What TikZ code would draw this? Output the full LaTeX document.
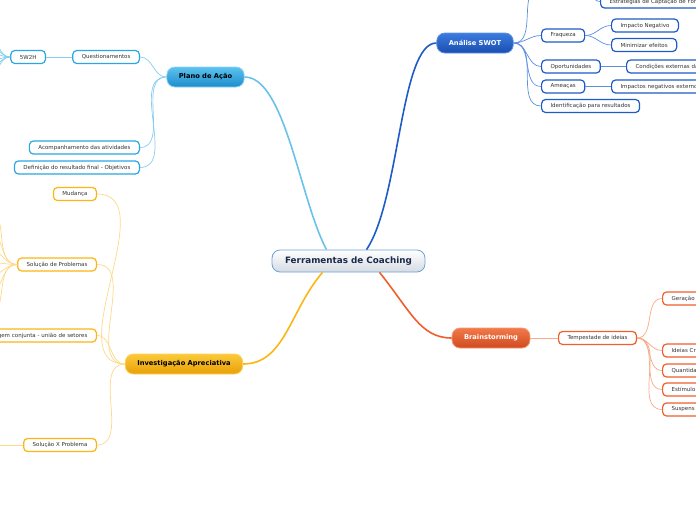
\documentclass[tikz,border=0pt]{standalone}
\usepackage{fontspec}
\setmainfont{DejaVu Sans}
\usetikzlibrary{calc}

\definecolor{planoline}{HTML}{86CDEF}
\definecolor{planoedge}{HTML}{2AA7E0}
\definecolor{swotline}{HTML}{5E8EE0}
\definecolor{swotedge}{HTML}{1D5BC6}
\definecolor{brainline}{HTML}{F7A988}
\definecolor{brainedge}{HTML}{EE5F2C}
\definecolor{invline}{HTML}{FDD98A}
\definecolor{invedge}{HTML}{FBB515}
\definecolor{itemtext}{HTML}{333333}

\begin{document}
\begin{tikzpicture}[x = 1pt, y = -1pt,
		topic/.style = {rounded corners = 8pt, minimum height = 20pt, inner xsep = 12pt, line width = 0.8pt, font = \fontsize{6.7}{7}\selectfont\bfseries},
		item/.style = {rounded corners = 4pt, minimum height = 13pt, inner xsep = 9pt, inner ysep = 1pt, fill = white, line width = 1.2pt, text = itemtext, font = \fontsize{5.5}{6}\selectfont},
		cutright/.style = {text width = #1, align = left},
		cutleft/.style = {text width = #1, align = right},
		planobox/.style = {item, draw = planoedge},
		swotbox/.style = {item, draw = swotedge},
		brainbox/.style = {item, draw = brainedge},
		invbox/.style = {item, draw = invedge},
		planolink/.style = {draw = planoline, line width = 0.7pt},
		swotlink/.style = {draw = swotline, line width = 0.7pt},
		brainlink/.style = {draw = brainline, line width = 0.7pt},
		invlink/.style = {draw = invline, line width = 0.7pt}]
			\useasboundingbox (0,0) rectangle (696,520);
			\clip (0,0) rectangle (696,520);

			\begin{scope}
				\node [topic, minimum height = 22pt, inner xsep = 13pt, draw = {rgb,255:red,106;green,160;blue,216}, top color = white, bottom color = {rgb,255:red,213;green,219;blue,226}, text = {rgb,255:red,27;green,42;blue,74}, font = \fontsize{8.8}{9}\selectfont\bfseries] (central) at (348.5,261) {Ferramentas de Coaching};
				\node [topic, draw = {rgb,255:red,142;green,212;blue,244}, top color = {rgb,255:red,92;green,195;blue,240}, bottom color = {rgb,255:red,28;green,140;blue,203}] (plano) at (205.5,77) {Plano de Ação};
				\node [topic, draw = {rgb,255:red,95;green,146;blue,228}, top color = {rgb,255:red,60;green,123;blue,224}, bottom color = {rgb,255:red,26;green,78;blue,174}, text = white] (swot) at (475,43) {Análise SWOT};
				\node [topic, draw = {rgb,255:red,243;green,154;blue,117}, top color = {rgb,255:red,242;green,122;blue,74}, bottom color = {rgb,255:red,207;green,74;blue,30}, text = white] (brain) at (491,338) {Brainstorming};
				\node [topic, draw = {rgb,255:red,253;green,210;blue,90}, top color = {rgb,255:red,252;green,201;blue,58}, bottom color = {rgb,255:red,233;green,160;blue,7}] (inv) at (184,364) {Investigação Apreciativa};
			\end{scope}

			% main branches
			\begin{scope}[line width = 1.6pt]
				\draw [planoline!70!planoedge] ($(central.north)+(-22,0)$) .. controls (300,200) and (285,77) .. (plano.east);
				\draw [swotedge] ($(central.north)+(18,0)$) .. controls (400,200) and (400,43) .. (swot.west);
				\draw [brainedge] ($(central.south)+(31,0)$) .. controls (410,310) and (420,338) .. (brain.west);
				\draw [invedge] ($(central.south)+(-26,0)$) .. controls (290,310) and (285,364) .. (inv.east);
			\end{scope}

			% Plano de Ação
			\node [planobox, anchor = east] (quest) at (140,57) {Questionamentos};
			\node [planobox, anchor = east] (w2h) at (46,57) {5W2H};
			\node [planobox, anchor = east] (acomp) at (140,147.5) {Acompanhamento das atividades};
			\node [planobox, anchor = east] (defin) at (140,167.5) {Definição do resultado final - Objetivos};

			\draw [planolink] (plano.west) to [out = 180, in = 0] (quest.east);
			\draw [planolink] (plano.west) to [out = 180, in = 0] (acomp.east);
			\draw [planolink] (plano.west) to [out = 180, in = 0] (defin.east);
			\draw [planolink] (quest.west) -- (w2h.east);
			\foreach \y [count = \i] in {28,40,51,62,73,86}
			{
				\coordinate (w\i) at (-16,\y);
				\draw [planolink] (w2h.west) to [out = 180, in = 0] (w\i);
			}

			% Analise SWOT
			\coordinate (forcaL) at (541,-14);
			\coordinate (forcaR) at (582,-14);
			\node [swotbox, anchor = west, cutright = 100pt] (estr) at (600,1.5) {Estratégias de Captação de For};
			\node [swotbox, anchor = west] (fraq) at (541,35.5) {Fraqueza};
			\node [swotbox, anchor = west] (impneg) at (611,25.5) {Impacto Negativo};
			\node [swotbox, anchor = west] (minim) at (611,45) {Minimizar efeitos};
			\node [swotbox, anchor = west] (oport) at (541,66.5) {Oportunidades};
			\node [swotbox, anchor = west, cutright = 80pt] (cond) at (626,66.5) {Condições externas da};
			\node [swotbox, anchor = west] (amea) at (541,86.5) {Ameaças};
			\node [swotbox, anchor = west, cutright = 100pt] (impext) at (611,86.5) {Impactos negativos externo};
			\node [swotbox, anchor = west] (ident) at (541,106) {Identificação para resultados};

			\draw [swotlink] (swot.east) to [out = 0, in = 180] (forcaL);
			\draw [swotlink] (forcaR) to [out = 0, in = 180] (estr.west);
			\foreach \n in {fraq,oport,amea,ident}
			{
				\draw [swotlink] (swot.east) to [out = 0, in = 180] (\n.west);
			}
			\draw [swotlink] (fraq.east) to [out = 0, in = 180] (impneg.west);
			\draw [swotlink] (fraq.east) to [out = 0, in = 180] (minim.west);
			\draw [swotlink] (oport.east) -- (cond.west);
			\draw [swotlink] (amea.east) -- (impext.west);

			% Brainstorming
			\node [brainbox, anchor = west] (temp) at (558,338) {Tempestade de ideias};
			\node [brainbox, anchor = west, cutright = 50pt] (ger) at (662,298.5) {Geração};
			\node [brainbox, anchor = west, cutright = 50pt] (ideias) at (662,350.5) {Ideias Cr};
			\node [brainbox, anchor = west, cutright = 50pt] (quant) at (662,370.5) {Quantida};
			\node [brainbox, anchor = west, cutright = 50pt] (estim) at (662,389.5) {Estímulo};
			\node [brainbox, anchor = west, cutright = 50pt] (susp) at (662,409.5) {Suspens};

			\draw [brainlink] (brain.east) -- (temp.west);
			\foreach \n in {ger,ideias,quant,estim,susp}
			{
				\draw [brainlink] (temp.east) to [out = 0, in = 180] (\n.west);
			}

			% Investigação Apreciativa
			\node [invbox, anchor = east] (mud) at (97,194) {Mudança};
			\node [invbox, anchor = east] (solp) at (97,264.5) {Solução de Problemas};
			\node [invbox, anchor = east, cutleft = 110pt] (aprend) at (97,335.5) {gem conjunta - união de setores};
			\node [invbox, anchor = east] (solx) at (97,445) {Solução X Problema};

			\foreach \n in {mud,solp,aprend,solx}
			{
				\draw [invlink] (inv.west) to [out = 180, in = 0] (\n.east);
			}
			\foreach \y [count = \i] in {208,228,247,262,278,296,318}
			{
				\coordinate (s\i) at (-14,\y);
				\draw [invlink] (solp.west) to [out = 180, in = 0] (s\i);
			}
			\coordinate (x1) at (-14,445);
			\draw [invlink] (solx.west) -- (x1);
		\end{tikzpicture}
\end{document}
